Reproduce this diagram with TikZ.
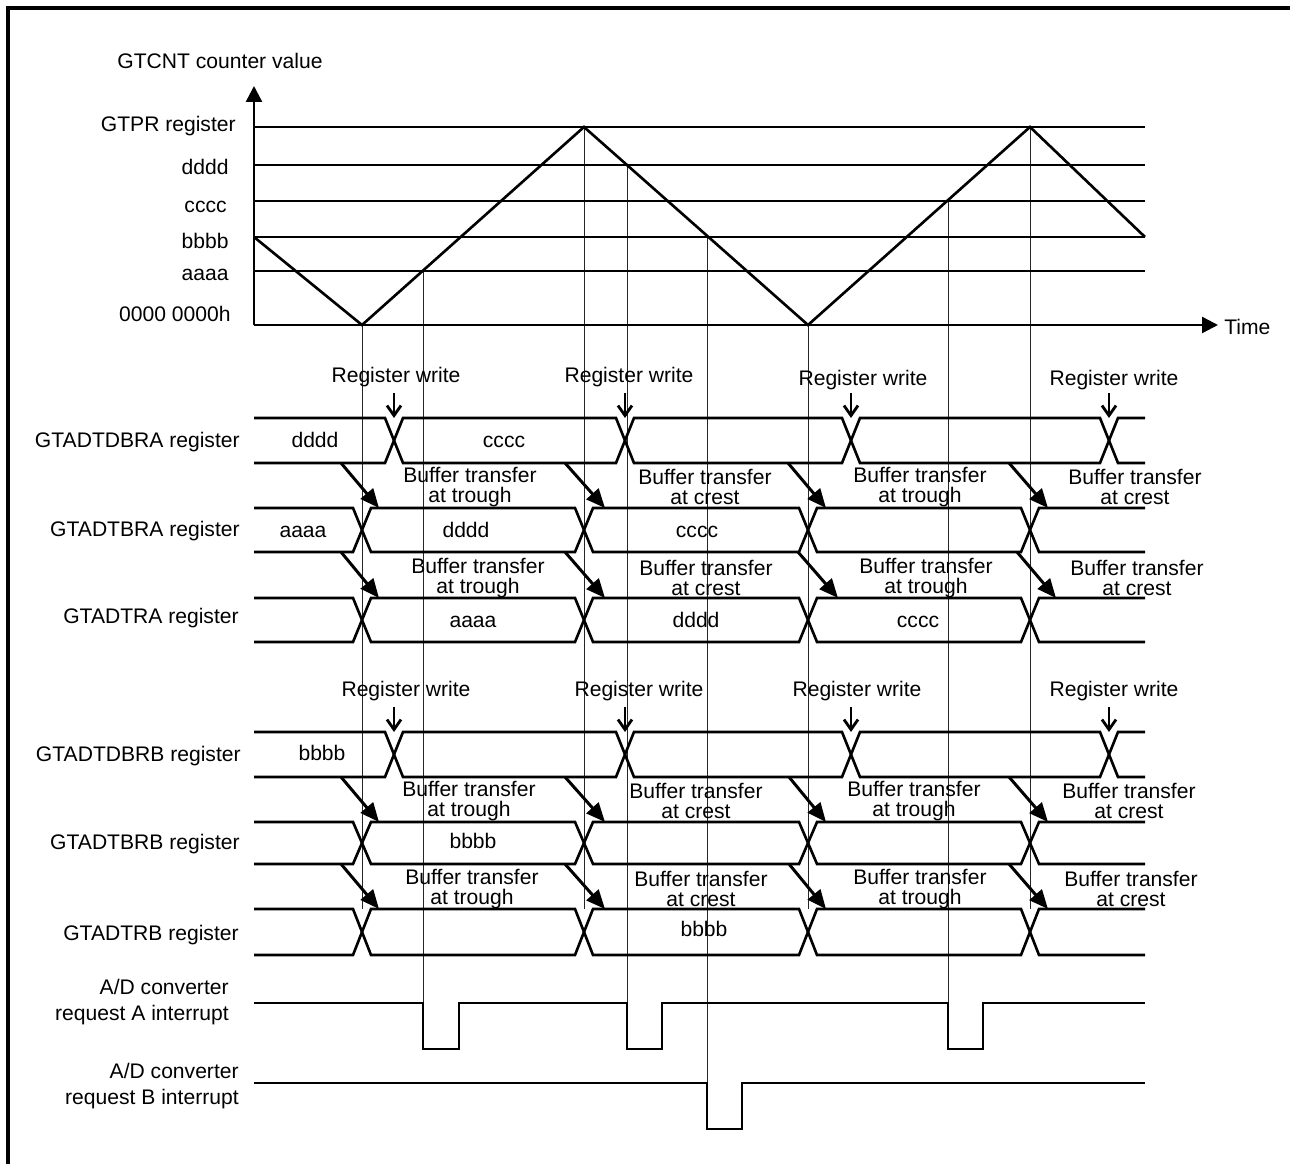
\documentclass[tikz,border=0pt]{standalone}
\usepackage{fontspec}
\setmainfont{Liberation Sans}
\usepackage{tikz}
\usetikzlibrary{arrows.meta}

% bus with four changes: top y, bottom y, four change points
\newcommand{\busrow}[6]{%
  \draw[sig] (254,#1) -- ({#3-9},#1) -- ({#3+9},#2) -- ({#4-9},#2) -- ({#4+9},#1)
    -- ({#5-9},#1) -- ({#5+9},#2) -- ({#6-9},#2) -- ({#6+9},#1) -- (1145,#1);
  \draw[sig] (254,#2) -- ({#3-9},#2) -- ({#3+9},#1) -- ({#4-9},#1) -- ({#4+9},#2)
    -- ({#5-9},#2) -- ({#5+9},#1) -- ({#6-9},#1) -- ({#6+9},#2) -- (1145,#2);}

\begin{document}
\begin{tikzpicture}[
    x=0.2mm, y=-0.2mm,
    sig/.style={line width=1.5pt},
    guide/.style={line width=0.5pt, black!85},
    gridln/.style={line width=0.6pt},
    axis/.style={line width=1.4pt, -{Triangle[length=3.2mm,width=3.2mm]}},
    buf/.style={line width=1.7pt, -{Triangle[length=3.8mm,width=3.2mm]}},
    wr/.style={line width=1.6pt, -{Straight Barb[length=2mm,width=2.8mm]}},
    lbl/.style={font=\fontsize{12pt}{11.8pt}\selectfont, inner sep=0pt, anchor=mid},
    reg/.style={lbl, anchor=mid east},
    two/.style={lbl, align=center, anchor=center},
    irq/.style={font=\fontsize{12pt}{14.4pt}\selectfont, inner sep=0pt,
                align=right, anchor=east}
]
\useasboundingbox (0,0) rectangle (1290,1164);

% Frame
\draw[line width=1.8pt] (8,1170) -- (8,8) -- (1295,8);

% Guide lines
\foreach \x/\a/\b in {362/325/909, 423/271/1003, 584/127/909, 627/165/1003,
                      707/237/1083, 808/325/909, 948/201/1003, 1030/127/909}
  \draw[guide] (\x,\a) -- (\x,\b);

% Counter
\foreach \y in {127,165,201,237,271}
  \draw[gridln] (254,\y) -- (1145,\y);
\draw[axis] (254,325) -- (254,86);
\draw[axis] (254,325) -- (1218,325);
\draw[sig] (254,237) -- (362,325) -- (584,127) -- (808,325) -- (1030,127) -- (1145,237);

\node[lbl] (ylab) at (220,64) {GTCNT counter value};
\node[lbl, anchor=mid west] (tlab) at (1224,330) {Time};
\node[reg] (vpr) at (236,127) {GTPR register};
\node[reg] (vd) at (229,170) {dddd};
\node[reg] (vc) at (227,208) {cccc};
\node[reg] (vb) at (229,244) {bbbb};
\node[reg] (va) at (229,276) {aaaa};
\node[reg] (vz) at (231,317) {0000 0000h};

% A side registers
\busrow{418}{463}{394}{625}{851}{1109}
\busrow{508}{552}{362}{584}{808}{1030}
\busrow{598}{642}{362}{584}{808}{1030}
\node[reg] (rA1) at (240,443) {GTADTDBRA register};
\node[reg] (rA2) at (240,532) {GTADTBRA register};
\node[reg] (rA3) at (239,619) {GTADTRA register};

\foreach \x/\lx/\ly [count=\i] in {394/396/378, 625/629/378, 851/863/381, 1109/1114/381} {
  \node[lbl] (rwA\i) at (\lx,\ly) {Register write};
  \draw[wr] (\x,393) -- (\x,418);
}
\foreach \s/\e in {341/379, 565/605, 788/826, 1009/1048}
  \draw[buf] (\s,463) -- (\e,508);
\foreach \s/\e in {341/379, 565/605, 798/838, 1017/1056}
  \draw[buf] (\s,552) -- (\e,598);
\foreach \x/\w [count=\i] in {470/trough, 705/crest, 920/trough, 1135/crest}
  \node[two] (btA\i) at (\x,487) {Buffer transfer\\at \w};
\foreach \x/\w [count=\i] in {478/trough, 706/crest, 926/trough, 1137/crest}
  \node[two] (brA\i) at (\x,578) {Buffer transfer\\at \w};

\node[lbl] (dA1) at (315,443) {dddd};
\node[lbl] (dA2) at (504,443) {cccc};
\node[lbl] (dA3) at (303,533) {aaaa};
\node[lbl] (dA4) at (466,533) {dddd};
\node[lbl] (dA5) at (697,533) {cccc};
\node[lbl] (dA6) at (473,623) {aaaa};
\node[lbl] (dA7) at (696,623) {dddd};
\node[lbl] (dA8) at (918,623) {cccc};

% B side registers
\busrow{732}{777}{394}{625}{851}{1109}
\busrow{822}{864}{362}{584}{808}{1030}
\busrow{909}{955}{362}{584}{808}{1030}
\node[reg] (rB1) at (241,757) {GTADTDBRB register};
\node[reg] (rB2) at (240,845) {GTADTBRB register};
\node[reg] (rB3) at (239,936) {GTADTRB register};

\foreach \x/\lx/\ly [count=\i] in {394/406/692, 625/639/692, 851/857/692, 1109/1114/692} {
  \node[lbl] (rwB\i) at (\lx,\ly) {Register write};
  \draw[wr] (\x,707) -- (\x,732);
}
\foreach \s/\e in {341/379, 565/605, 789/826, 1009/1048}
  \draw[buf] (\s,777) -- (\e,822);
\foreach \s/\e in {341/379, 565/605, 789/826, 1009/1048}
  \draw[buf] (\s,864) -- (\e,909);
\foreach \x/\w [count=\i] in {469/trough, 696/crest, 914/trough, 1129/crest}
  \node[two] (btB\i) at (\x,801) {Buffer transfer\\at \w};
\foreach \x/\w [count=\i] in {472/trough, 701/crest, 920/trough, 1131/crest}
  \node[two] (brB\i) at (\x,889) {Buffer transfer\\at \w};

\node[lbl] (dB1) at (322,756) {bbbb};
\node[lbl] (dB2) at (473,844) {bbbb};
\node[lbl] (dB3) at (704,932) {bbbb};

% Interrupts
\draw[sig] (254,1003) -- (423,1003) -- (423,1049) -- (459,1049) -- (459,1003)
  -- (627,1003) -- (627,1049) -- (662,1049) -- (662,1003)
  -- (948,1003) -- (948,1049) -- (983,1049) -- (983,1003) -- (1145,1003);
\draw[sig] (254,1083) -- (707,1083) -- (707,1129) -- (742,1129) -- (742,1083) -- (1145,1083);
\node[irq] (iA) at (229,1002) {A/D converter\\request A interrupt};
\node[irq] (iB) at (239,1086) {A/D converter\\request B interrupt};

\end{tikzpicture}
\end{document}
